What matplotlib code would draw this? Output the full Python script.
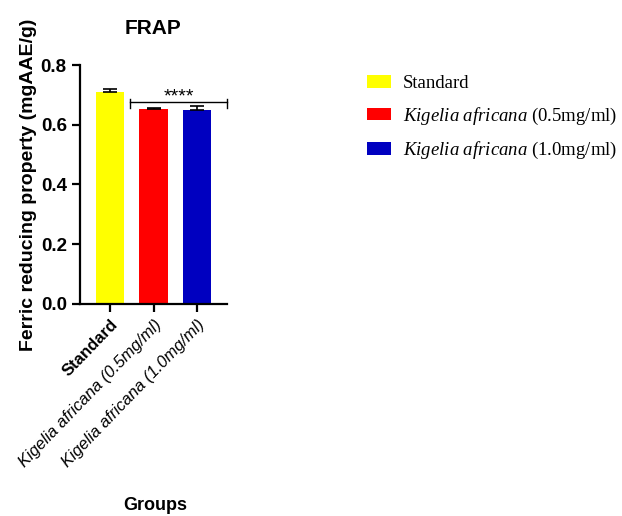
import matplotlib
matplotlib.use('Agg')
import matplotlib.pyplot as plt
from matplotlib.patches import Patch
import numpy as np

plt.rcParams['font.family'] = 'Liberation Sans'
plt.rcParams['mathtext.fontset'] = 'custom'
plt.rcParams['mathtext.rm'] = 'Liberation Serif'
plt.rcParams['mathtext.it'] = 'Liberation Serif:italic'

# data
groups = ['Standard', 'Kigelia africana (0.5mg/ml)', 'Kigelia africana (1.0mg/ml)']
values = [0.710, 0.653, 0.649]
errors = [0.008, 0.003, 0.014]
colors = ['#ffff00', '#ff0000', '#0000c0']
legend_labels = ['Standard',
                 r'$\it{Kigelia\ africana}$ (0.5mg/ml)',
                 r'$\it{Kigelia\ africana}$ (1.0mg/ml)']

fig = plt.figure(figsize=(6.22, 5.16), dpi=100)
ax = fig.add_axes([80/622, 1 - 304/516, 147/622, 239/516])

x = np.arange(len(groups))
ax.bar(x, values, width=0.65, color=colors, zorder=2)
ax.errorbar(x, values, yerr=[np.zeros(3), errors], fmt='none', ecolor='black',
            elinewidth=1.2, capsize=5, capthick=1.2, zorder=3)

ax.set_xlim(-0.69, 2.69)
ax.set_ylim(0, 0.8)
ax.set_yticks([0.0, 0.2, 0.4, 0.6, 0.8])
ax.set_yticklabels(['0.0', '0.2', '0.4', '0.6', '0.8'], fontsize=13.5, fontweight='bold')
ax.set_xticks(x)
lbls = ax.set_xticklabels(groups, rotation=46, ha='right', rotation_mode='anchor', fontsize=12)
lbls[0].set_fontweight('bold')
for t in lbls[1:]:
    t.set_fontstyle('italic')

for s in ['top', 'right']:
    ax.spines[s].set_visible(False)
for s in ['left', 'bottom']:
    ax.spines[s].set_linewidth(1.6)
ax.tick_params(width=1.6, length=6)

# significance bracket
yb = 0.675
ax.plot([0.47, 2.69], [yb, yb], color='black', lw=1, clip_on=False)
ax.plot([0.47, 0.47], [yb - 0.018, yb + 0.012], color='black', lw=1, clip_on=False)
ax.plot([2.69, 2.69], [yb - 0.018, yb + 0.012], color='black', lw=1, clip_on=False)
ax.text(1.58, yb - 0.012, '****', ha='center', va='bottom', fontsize=14)

ax.set_title('FRAP', fontsize=15, fontweight='bold', pad=22)
ax.set_ylabel('Ferric reducing property (mgAAE/g)', fontsize=14, fontweight='bold', labelpad=3)
fig.text(155/622, 1 - 505/516, 'Groups', ha='center', va='center', fontsize=13, fontweight='bold')

handles = [Patch(facecolor=c) for c in colors]
fig.legend(handles, legend_labels, loc='upper left', bbox_to_anchor=(351/622, 1 - 59/516),
           frameon=False, prop={'family': 'Liberation Serif', 'size': 13.5},
           handlelength=1.3, handleheight=0.65, labelspacing=0.72, handletextpad=0.6,
           borderpad=0.35, borderaxespad=0.5)

fig.savefig('out.png', dpi=100)
